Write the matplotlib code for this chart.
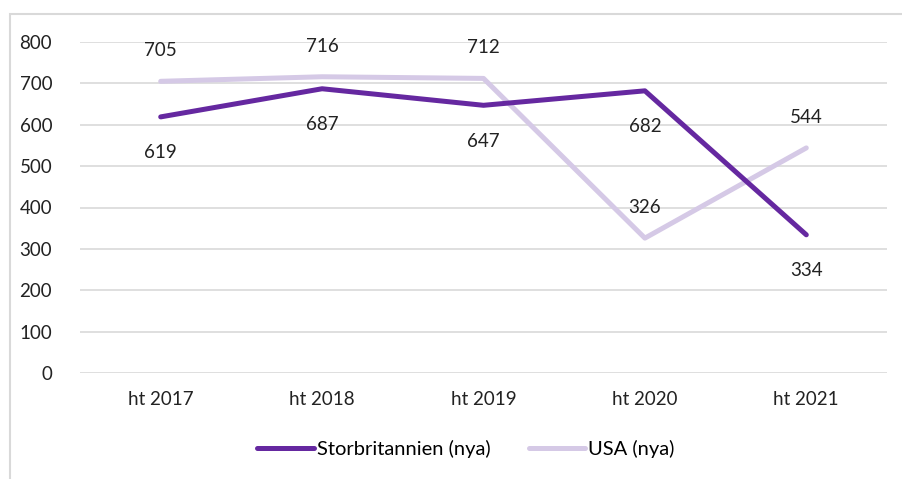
import matplotlib
matplotlib.use("Agg")
import matplotlib.pyplot as plt
from matplotlib.patches import Rectangle

plt.rcParams['font.family'] = ['Lato', 'DejaVu Sans']

categories = ["ht 2017", "ht 2018", "ht 2019", "ht 2020", "ht 2021"]
storbritannien = [619, 687, 647, 682, 334]
usa = [705, 716, 712, 326, 544]
yticks = [0, 100, 200, 300, 400, 500, 600, 700, 800]

W, H = 903, 479
FS = 13.5
fig = plt.figure(figsize=(W / 100, H / 100), dpi=100)
fig.patch.set_facecolor("white")

# outer chart frame
fig.patches.append(Rectangle((10 / W, -0.05), 1.0, 1 - 14 / H + 0.05,
                             transform=fig.transFigure, fill=False,
                             edgecolor="#d9d9d9", linewidth=1.5))

ax = fig.add_axes([80 / W, 1 - 373 / H, (887 - 80) / W, (373 - 42) / H])
x = list(range(len(categories)))

ax.plot(x, usa, color="#d5c9e6", linewidth=3.6, solid_capstyle="round",
        label="USA (nya)", zorder=3)
ax.plot(x, storbritannien, color="#6528a0", linewidth=3.6, solid_capstyle="round",
        label="Storbritannien (nya)", zorder=4)

for xi, v in zip(x, storbritannien):
    ax.annotate(str(v), (xi, v), xytext=(0, -26), textcoords="offset points",
                ha="center", va="center", fontsize=FS, color="#222222")
for xi, v in zip(x, usa):
    ax.annotate(str(v), (xi, v), xytext=(0, 22), textcoords="offset points",
                ha="center", va="center", fontsize=FS, color="#222222")

ax.set_xlim(-0.5, len(categories) - 0.5)
ax.set_ylim(0, 800)
ax.set_yticks(yticks)
ax.set_xticks(x)
ax.set_xticklabels(categories)
ax.tick_params(axis="both", length=0, labelsize=FS, colors="#222222")
ax.tick_params(axis="y", pad=20)
ax.tick_params(axis="x", pad=13)
ax.grid(axis="y", color="#d9d9d9", linewidth=1.2)
ax.set_axisbelow(True)
for s in ax.spines.values():
    s.set_visible(False)

handles, labels = ax.get_legend_handles_labels()
leg = fig.legend([handles[1], handles[0]], [labels[1], labels[0]],
                 loc="center", bbox_to_anchor=(466 / W, 1 - 449 / H),
                 ncol=2, frameon=False, fontsize=14.5, handlelength=2.8,
                 handletextpad=0.15, columnspacing=1.9)

fig.savefig("out.png", dpi=100)
